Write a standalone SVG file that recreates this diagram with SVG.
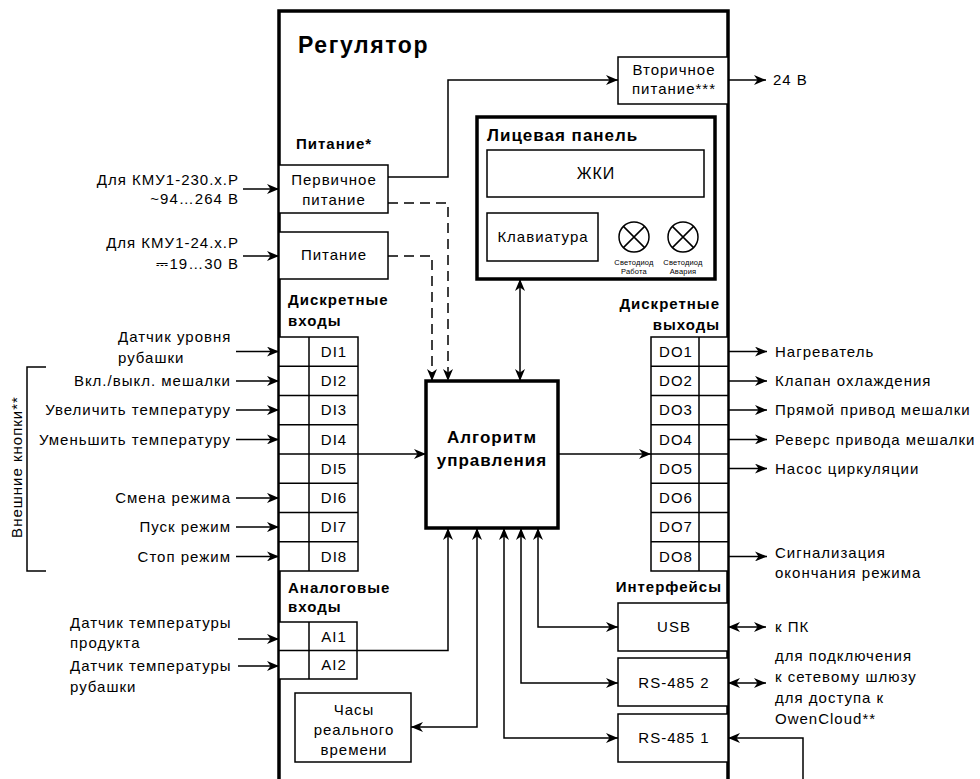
<svg xmlns="http://www.w3.org/2000/svg" width="980" height="779" viewBox="0 0 980 779">
<defs>
<marker id="a" viewBox="0 0 12 10" refX="12" refY="5" markerWidth="12" markerHeight="10" markerUnits="userSpaceOnUse" orient="auto-start-reverse"><path d="M0,0 L12,5 L0,10 L3.5,5 z" fill="#000"/></marker>
<style>
text{font-family:"Liberation Sans","DejaVu Sans",Arial,sans-serif;font-size:15px;letter-spacing:1px;fill:#000}
.b{font-weight:bold}
.m{text-anchor:middle}
.e{text-anchor:end}
.box{fill:#fff;stroke:#000;stroke-width:1.5}
.thick{fill:#fff;stroke:#000;stroke-width:3.5}
.ln{fill:none;stroke:#000;stroke-width:1.5}
.ar{fill:none;stroke:#000;stroke-width:1.5;marker-end:url(#a)}
.bi{fill:none;stroke:#000;stroke-width:1.5;marker-end:url(#a);marker-start:url(#a)}
.ds{fill:none;stroke:#000;stroke-width:1.5;stroke-dasharray:10,6;marker-end:url(#a)}
.sm{font-size:7.5px;letter-spacing:0.2px}
.big{font-size:17px}
</style>
</defs>
<rect width="980" height="779" fill="#fff"/>

<g id="regulator">
<path d="M279,785 L279,11 L728,11 L728,785" fill="none" stroke="#000" stroke-width="3.5"/>
<text x="298" y="53" class="b" style="font-size:23px;letter-spacing:1.6px">Регулятор</text>
</g>

<g id="power-label"><text x="296" y="149" class="b">Питание*</text></g>

<g id="primary-power">
<rect x="279" y="165" width="109" height="48" class="box"/>
<text x="334" y="185" class="m">Первичное</text>
<text x="334" y="205" class="m">питание</text>
</g>

<g id="power24">
<rect x="279" y="232" width="109" height="47" class="box"/>
<text x="334" y="260" class="m">Питание</text>
</g>

<g id="secondary-power">
<rect x="618" y="57" width="110" height="47" class="box"/>
<text x="674" y="75" class="m">Вторичное</text>
<text x="674" y="94" class="m">питание***</text>
</g>

<g id="front-panel">
<rect x="477" y="117" width="238" height="162" class="thick"/>
<text x="487" y="141" class="b big">Лицевая панель</text>
<rect x="487" y="150" width="217" height="47" class="box"/>
<text x="596" y="179" class="m" style="font-size:16px">ЖКИ</text>
<rect x="487" y="213" width="111" height="48" class="box"/>
<text x="543" y="242" class="m">Клавиатура</text>
<circle cx="634" cy="237" r="15" class="box"/>
<path d="M623.4,226.4 L644.6,247.6 M644.6,226.4 L623.4,247.6" class="ln"/>
<circle cx="683" cy="237" r="15" class="box"/>
<path d="M672.4,226.4 L693.6,247.6 M693.6,226.4 L672.4,247.6" class="ln"/>
<text x="634" y="265" class="m sm">Светодиод</text>
<text x="634" y="274" class="m sm">Работа</text>
<text x="683" y="265" class="m sm">Светодиод</text>
<text x="683" y="274" class="m sm">Авария</text>
</g>

<g id="algorithm">
<rect x="426" y="381" width="132" height="147" class="thick"/>
<text x="492" y="443" class="m b big">Алгоритм</text>
<text x="492" y="466" class="m b big">управления</text>
</g>

<g id="discrete-inputs">
<text x="288" y="305" class="b">Дискретные</text>
<text x="288" y="326" class="b">входы</text>
<rect x="279" y="337" width="79" height="234" class="box"/>
<path d="M309,337 L309,571 M279,366.25 H358 M279,395.5 H358 M279,424.75 H358 M279,454 H358 M279,483.25 H358 M279,512.5 H358 M279,541.75 H358" class="ln"/>
<text x="334" y="357" class="m">DI1</text>
<text x="334" y="386" class="m">DI2</text>
<text x="334" y="415" class="m">DI3</text>
<text x="334" y="445" class="m">DI4</text>
<text x="334" y="474" class="m">DI5</text>
<text x="334" y="503" class="m">DI6</text>
<text x="334" y="532" class="m">DI7</text>
<text x="334" y="562" class="m">DI8</text>
</g>

<g id="discrete-outputs">
<text x="720" y="309" class="b e">Дискретные</text>
<text x="720" y="330" class="b e">выходы</text>
<rect x="651" y="337" width="77" height="234" class="box"/>
<path d="M699,337 L699,571 M651,366.25 H728 M651,395.5 H728 M651,424.75 H728 M651,454 H728 M651,483.25 H728 M651,512.5 H728 M651,541.75 H728" class="ln"/>
<text x="676" y="357" class="m">DO1</text>
<text x="676" y="386" class="m">DO2</text>
<text x="676" y="415" class="m">DO3</text>
<text x="676" y="445" class="m">DO4</text>
<text x="676" y="474" class="m">DO5</text>
<text x="676" y="503" class="m">DO6</text>
<text x="676" y="532" class="m">DO7</text>
<text x="676" y="562" class="m">DO8</text>
</g>

<g id="analog-inputs">
<text x="288" y="593" class="b">Аналоговые</text>
<text x="288" y="612" class="b">входы</text>
<rect x="279" y="622" width="78" height="57" class="box"/>
<path d="M309,622 L309,679 M279,650.5 H357" class="ln"/>
<text x="334" y="642" class="m">AI1</text>
<text x="334" y="670" class="m">AI2</text>
</g>

<g id="clock">
<rect x="295" y="693" width="116" height="69" class="box"/>
<text x="354" y="715" class="m">Часы</text>
<text x="354" y="735" class="m">реального</text>
<text x="354" y="755" class="m">времени</text>
</g>

<g id="interfaces">
<text x="722" y="592" class="b e">Интерфейсы</text>
<rect x="618" y="603" width="110" height="48" class="box"/>
<text x="674" y="632" class="m">USB</text>
<rect x="618" y="658" width="110" height="48" class="box"/>
<text x="674" y="688" class="m">RS-485 2</text>
<rect x="618" y="714" width="110" height="48" class="box"/>
<text x="674" y="743" class="m">RS-485 1</text>
</g>

<g id="external-labels">
<text x="239" y="185" class="e">Для КМУ1-230.х.Р</text>
<text x="239" y="204" class="e">~94…264 В</text>
<text x="239" y="248" class="e">Для КМУ1-24.х.Р</text>
<text x="239" y="269" class="e">⎓19…30 В</text>
<text x="773" y="85">24 В</text>
<text x="118" y="342">Датчик уровня</text>
<text x="118" y="363">рубашки</text>
<text x="231" y="386" class="e">Вкл./выкл. мешалки</text>
<text x="231" y="415" class="e">Увеличить температуру</text>
<text x="231" y="445" class="e">Уменьшить температуру</text>
<text x="231" y="503" class="e">Смена режима</text>
<text x="231" y="532" class="e">Пуск режим</text>
<text x="231" y="562" class="e">Стоп режим</text>
<text transform="translate(22,467) rotate(-90)" class="m">Внешние кнопки**</text>
<text x="70" y="628">Датчик температуры</text>
<text x="70" y="648">продукта</text>
<text x="70" y="671">Датчик температуры</text>
<text x="70" y="692">рубашки</text>
<text x="775" y="357">Нагреватель</text>
<text x="775" y="386">Клапан охлаждения</text>
<text x="775" y="415">Прямой привод мешалки</text>
<text x="775" y="445">Реверс привода мешалки</text>
<text x="775" y="474">Насос циркуляции</text>
<text x="775" y="558">Сигнализация</text>
<text x="775" y="578">окончания режима</text>
<text x="775" y="632">к ПК</text>
<text x="775" y="661">для подключения</text>
<text x="775" y="682">к сетевому шлюзу</text>
<text x="775" y="703">для доступа к</text>
<text x="775" y="724">OwenCloud**</text>
</g>

<g id="connectors">
<path d="M46,367 H27 V571 H46" class="ln"/>
<path d="M243,189 H279" class="ar"/>
<path d="M243,256 H279" class="ar"/>
<path d="M388,177 H448 V80 H618" class="ar"/>
<path d="M728,80 H766" class="ar"/>
<path d="M388,203 H448 V381" class="ds"/>
<path d="M388,256 H432 V381" class="ds"/>
<path d="M520,279 V381" class="bi"/>
<path d="M236,351.6 H279" class="ar"/>
<path d="M236,380.9 H279" class="ar"/>
<path d="M236,410.1 H279" class="ar"/>
<path d="M236,439.4 H279" class="ar"/>
<path d="M236,497.9 H279" class="ar"/>
<path d="M236,527.1 H279" class="ar"/>
<path d="M236,556.4 H279" class="ar"/>
<path d="M358,454 H426" class="ar"/>
<path d="M558,454 H651" class="ar"/>
<path d="M728,351.6 H767" class="ar"/>
<path d="M728,380.9 H767" class="ar"/>
<path d="M728,410.1 H767" class="ar"/>
<path d="M728,439.4 H767" class="ar"/>
<path d="M728,468.6 H767" class="ar"/>
<path d="M728,556.4 H767" class="ar"/>
<path d="M238,639 H279" class="ar"/>
<path d="M238,666 H279" class="ar"/>
<path d="M357,650.5 H448 V528" class="ar"/>
<path d="M411,727 H477 V528" class="bi"/>
<path d="M618,738 H504 V528" class="bi"/>
<path d="M618,683 H521 V528" class="bi"/>
<path d="M618,627 H538 V528" class="bi"/>
<path d="M728,627 H766" class="bi"/>
<path d="M728,683 H766" class="bi"/>
<path d="M803,785 V738 H728" class="ar"/>
</g>
</svg>
